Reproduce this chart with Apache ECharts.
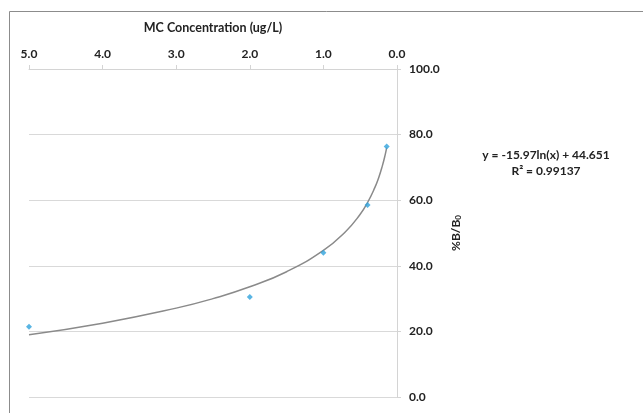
<!DOCTYPE html>
<html>
<head>
<meta charset="utf-8">
<script src="https://cdn.jsdelivr.net/npm/echarts@6/dist/echarts.min.js"></script>
<style>
html,body{margin:0;padding:0;background:#fff;}
#chart{width:643px;height:413px;}
</style>
</head>
<body>
<div id="chart"></div>
<script>
// Measured points
var concentrations = [5.0, 2.0, 1.0, 0.4, 0.14];
var percentBB0 = [21.4, 30.5, 44.0, 58.5, 76.4];
// Trendline
var trendX = [5.0, 4.0, 3.0, 2.5, 2.0, 1.5, 1.0, 0.7, 0.5, 0.4, 0.3, 0.25, 0.2, 0.16, 0.14];
var trendY = [19.0, 22.5, 27.1, 30.0, 33.6, 38.2, 44.7, 50.4, 55.7, 59.3, 63.9, 66.8, 70.4, 73.9, 76.0];
var xTicks = [0, 1, 2, 3, 4, 5];
var yTicks = [0, 20, 40, 60, 80, 100];
var xTitle = 'MC Concentration (ug/L)';
var equationText = 'y = -15.97ln(x) + 44.651';
var r2Text = 'R\u00B2 = 0.99137';

var FONT = 'Lato, "Open Sans", sans-serif';
var chart = echarts.init(document.getElementById('chart'));
var pts = concentrations.map(function (x, i) { return [x, percentBB0[i]]; });
var trend = trendX.map(function (x, i) { return [x, trendY[i]]; });

chart.setOption({
  animation: false,
  backgroundColor: '#fff',
  grid: { left: 29, right: 246, top: 69, bottom: 16 },
  xAxis: {
    type: 'value', position: 'top', inverse: true,
    min: xTicks[0], max: xTicks[xTicks.length - 1], interval: 1,
    name: xTitle, nameLocation: 'middle', nameGap: 35,
    nameTextStyle: { fontFamily: FONT, fontWeight: 'bold', fontSize: 12.5, color: '#222' },
    axisLine: { show: true, onZero: false, lineStyle: { color: '#d4d4d4', width: 1 } },
    axisTick: { show: true, inside: false, length: 4, lineStyle: { color: '#d4d4d4' } },
    axisLabel: { fontFamily: FONT, fontWeight: 'bold', fontSize: 12, color: '#222', margin: 9,
      formatter: function (v) { return v.toFixed(1); } },
    splitLine: { show: false }
  },
  yAxis: {
    type: 'value', position: 'right',
    min: yTicks[0], max: yTicks[yTicks.length - 1], interval: 20,
    name: '{a|%B/B}{b|0}', nameLocation: 'middle', nameGap: 52, nameRotate: 90,
    nameTextStyle: {
      rich: {
        a: { fontFamily: FONT, fontWeight: 'bold', fontSize: 12, color: '#222' },
        b: { fontFamily: FONT, fontWeight: 'bold', fontSize: 8, color: '#222', verticalAlign: 'bottom', padding: [4, 0, 0, 0] }
      }
    },
    axisLine: { show: true, onZero: false, lineStyle: { color: '#d4d4d4', width: 1 } },
    axisTick: { show: true, inside: false, length: 4, lineStyle: { color: '#d4d4d4' } },
    axisLabel: { fontFamily: FONT, fontWeight: 'bold', fontSize: 12, color: '#222', margin: 12,
      formatter: function (v) { return v.toFixed(1); } },
    splitLine: { show: true, lineStyle: { color: '#d9d9d9', width: 1 } }
  },
  series: [
    {
      type: 'line', data: trend, smooth: true, showSymbol: false, symbol: 'none',
      lineStyle: { color: '#8a8a8a', width: 1.5 }, z: 2, silent: true
    },
    {
      type: 'scatter', data: pts, symbol: 'diamond', symbolSize: 6,
      itemStyle: { color: '#2fa3dc' }, z: 3
    }
  ],
  graphic: [
    { type: 'rect', left: 7, top: 9, silent: true,
      shape: { x: 0.5, y: 0.5, width: 700, height: 500 },
      style: { fill: 'none', stroke: '#8c8c8c', lineWidth: 1 } },
    { type: 'text', x: 546, y: 155, silent: true,
      style: { text: equationText, align: 'center', verticalAlign: 'middle',
        font: 'bold 12px ' + FONT, fill: '#222' } },
    { type: 'text', x: 546, y: 171, silent: true,
      style: { text: r2Text, align: 'center', verticalAlign: 'middle',
        font: 'bold 12px ' + FONT, fill: '#222' } }
  ]
});
</script>
</body>
</html>
